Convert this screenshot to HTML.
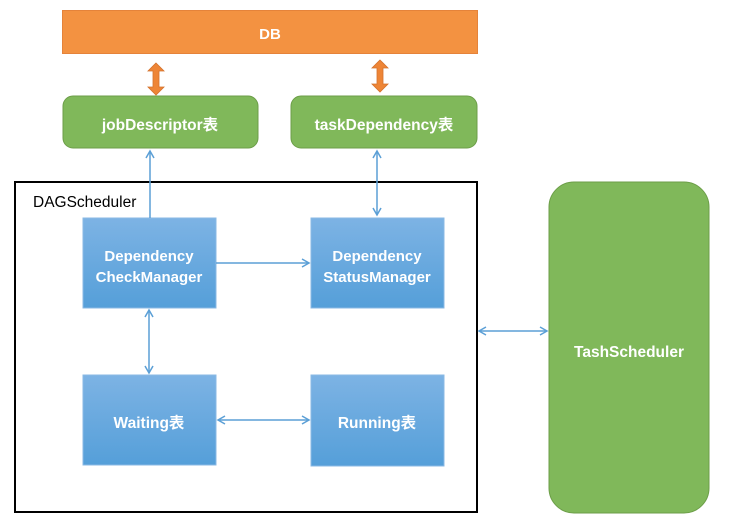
<!DOCTYPE html>
<html><head><meta charset="utf-8"><style>
html,body{margin:0;padding:0;background:#fff;}
svg{display:block;}
text{font-family:"Liberation Sans","Noto Sans CJK SC",sans-serif;}
.w{fill:#fff;font-weight:bold;}
</style></head><body>
<svg width="732" height="526" viewBox="0 0 732 526" xmlns="http://www.w3.org/2000/svg">
<defs>
<linearGradient id="bg" x1="0" y1="0" x2="0" y2="1">
<stop offset="0" stop-color="#7db3e4"/><stop offset="1" stop-color="#559fd9"/>
</linearGradient>
<marker id="ah" markerWidth="10" markerHeight="10" refX="8" refY="5" orient="auto-start-reverse" markerUnits="userSpaceOnUse">
<path d="M1,1 L8,5 L1,9" fill="none" stroke="#5b9fd6" stroke-width="1.5"/>
</marker>
</defs>
<rect x="62.5" y="10.5" width="415" height="43" fill="#f39241" stroke="#e5833a"/>
<text x="270" y="39" class="w" font-size="15" text-anchor="middle">DB</text>
<path d="M156,63 L164,71 L159,71 L159,87 L164,87 L156,95 L148,87 L153,87 L153,71 L148,71 Z" fill="#ee8536" stroke="#d4722c" stroke-width="0.8"/>
<path d="M380,60 L388,68 L383,68 L383,84 L388,84 L380,92 L372,84 L377,84 L377,68 L372,68 Z" fill="#ee8536" stroke="#d4722c" stroke-width="0.8"/>
<rect x="63" y="96" width="195" height="52" rx="10" fill="#80b85a" stroke="#6c9e48"/>
<text x="160" y="130" class="w" font-size="15.5" text-anchor="middle">jobDescriptor表</text>
<rect x="291" y="96" width="186" height="52" rx="10" fill="#80b85a" stroke="#6c9e48"/>
<text x="384" y="130" class="w" font-size="15.5" text-anchor="middle">taskDependency表</text>
<rect x="15" y="182" width="462" height="330" fill="#fff" stroke="#000" stroke-width="2"/>
<text x="33" y="207" fill="#000" font-size="15.5">DAGScheduler</text>
<rect x="549" y="182" width="160" height="331" rx="25" fill="#80b85a" stroke="#6c9e48"/>
<text x="629" y="357" class="w" font-size="15.5" text-anchor="middle">TashScheduler</text>
<rect x="83" y="218" width="133" height="90" fill="url(#bg)" stroke="#8ab9e4"/>
<text x="149" y="261" class="w" font-size="15" text-anchor="middle">Dependency</text>
<text x="149" y="282" class="w" font-size="15" text-anchor="middle">CheckManager</text>
<rect x="311" y="218" width="133" height="90" fill="url(#bg)" stroke="#8ab9e4"/>
<text x="377" y="261" class="w" font-size="15" text-anchor="middle">Dependency</text>
<text x="377" y="282" class="w" font-size="15" text-anchor="middle">StatusManager</text>
<rect x="83" y="375" width="133" height="90" fill="url(#bg)" stroke="#8ab9e4"/>
<text x="149" y="428" class="w" font-size="15.5" text-anchor="middle">Waiting表</text>
<rect x="311" y="375" width="133" height="91" fill="url(#bg)" stroke="#8ab9e4"/>
<text x="377" y="428" class="w" font-size="15.5" text-anchor="middle">Running表</text>
<g stroke="#5b9fd6" stroke-width="1.5" fill="none">
<line x1="150" y1="218" x2="150" y2="151" marker-end="url(#ah)"/>
<line x1="377" y1="151" x2="377" y2="215" marker-start="url(#ah)" marker-end="url(#ah)"/>
<line x1="216" y1="263" x2="309" y2="263" marker-end="url(#ah)"/>
<line x1="149" y1="310" x2="149" y2="373" marker-start="url(#ah)" marker-end="url(#ah)"/>
<line x1="218" y1="420" x2="309" y2="420" marker-start="url(#ah)" marker-end="url(#ah)"/>
<line x1="479" y1="331" x2="547" y2="331" marker-start="url(#ah)" marker-end="url(#ah)"/>
</g>
</svg>
</body></html>
